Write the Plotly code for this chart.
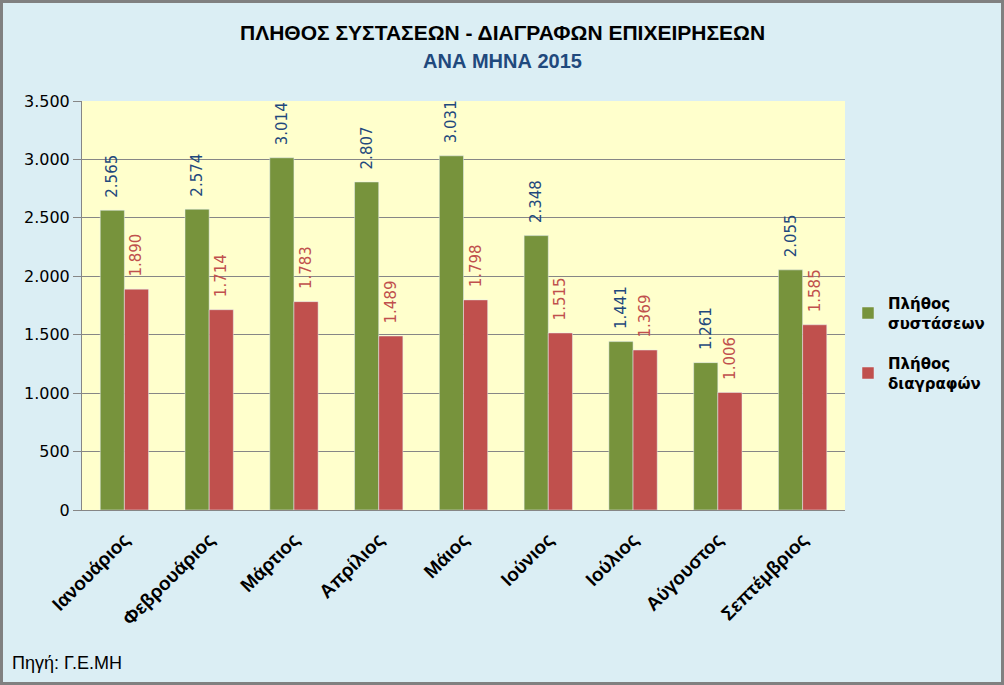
import plotly.graph_objects as go

months = ["Ιανουάριος", "Φεβρουάριος", "Μάρτιος", "Απρίλιος", "Μάιος",
          "Ιούνιος", "Ιούλιος", "Αύγουστος", "Σεπτέμβριος"]
systaseis = [2565, 2574, 3014, 2807, 3031, 2348, 1441, 1261, 2055]
diagrafes = [1890, 1714, 1783, 1489, 1798, 1515, 1369, 1006, 1585]
y_ticks = [0, 500, 1000, 1500, 2000, 2500, 3000, 3500]

W, H = 1004, 685
ml, mr, mt, mb = 82, 159, 101, 175
pw, ph = W - ml - mr, H - mt - mb

fig = go.Figure()
fig.add_trace(go.Bar(
    x=months, y=systaseis, name="<b>Πλήθος<br>συστάσεων</b>",
    legendgroup="a",
    marker_color="#77933C",
    texttemplate="\u00a0\u00a0%{y:,d}", textposition="outside", textangle=-90,
    constraintext="none",
    textfont=dict(family="DejaVu Sans", size=15, color="#1F497D"),
    cliponaxis=False,
))
fig.add_trace(go.Bar(
    x=months, y=diagrafes, name="<b>Πλήθος<br>διαγραφών</b>",
    legendgroup="b",
    marker_color="#C0504D",
    texttemplate="\u00a0\u00a0%{y:,d}", textposition="outside", textangle=-90,
    constraintext="none",
    textfont=dict(family="DejaVu Sans", size=15, color="#C0504D"),
    cliponaxis=False,
))

fig.update_layout(
    width=W, height=H,
    margin=dict(l=ml, r=mr, t=mt, b=mb, autoexpand=False),
    paper_bgcolor="#DBEEF4",
    plot_bgcolor="#FFFFCC",
    separators=",.",
    barmode="group",
    bargap=0.43,
    bargroupgap=0,
    showlegend=True,
    legend=dict(x=(848 - ml) / pw, y=(510 - 343) / ph, xanchor="left", yanchor="middle",
                font=dict(family="DejaVu Sans", size=15, color="#000000"),
                tracegroupgap=18, bgcolor="rgba(0,0,0,0)", itemwidth=30),
    font=dict(family="DejaVu Sans", color="#000000"),
)
fig.update_yaxes(
    range=[0, 3500], tickvals=y_ticks, tickformat=",d",
    showgrid=True, gridcolor="#868686", gridwidth=1,
    showline=True, linecolor="#868686", linewidth=1,
    ticks="outside", ticklen=8, tickcolor="#868686",
    tickfont=dict(family="DejaVu Sans", size=16, color="#000000"),
    zeroline=False,
)
fig.update_xaxes(
    showline=True, linecolor="#868686", linewidth=1,
    tickangle=-45, ticklabelstandoff=10,
    tickfont=dict(family="Liberation Sans", size=19, color="#000000"),
    ticks="",
)
fig.update_xaxes(ticktext=[f"<b>{m}</b>" for m in months], tickvals=months)

fig.add_annotation(text="<b>ΠΛΗΘΟΣ ΣΥΣΤΑΣΕΩΝ - ΔΙΑΓΡΑΦΩΝ ΕΠΙΧΕΙΡΗΣΕΩΝ</b>",
                   xref="paper", yref="paper",
                   x=(502 - ml) / pw, y=1 + (mt - 32) / ph,
                   xanchor="center", yanchor="middle", showarrow=False,
                   font=dict(family="Liberation Sans", size=21, color="#000000"))
fig.add_annotation(text="<b>ΑΝΑ ΜΗΝΑ 2015</b>",
                   xref="paper", yref="paper",
                   x=(502 - ml) / pw, y=1 + (mt - 61) / ph,
                   xanchor="center", yanchor="middle", showarrow=False,
                   font=dict(family="Liberation Sans", size=20, color="#1F497D"))
fig.add_annotation(text="Πηγή: Γ.Ε.ΜΗ",
                   xref="paper", yref="paper",
                   x=(10 - ml) / pw, y=-(663 - mt - ph) / ph,
                   xanchor="left", yanchor="middle", showarrow=False,
                   font=dict(family="Liberation Sans", size=18, color="#000000"))
fig.add_shape(type="rect", xref="paper", yref="paper",
              x0=(1.5 - ml) / pw, x1=(W - 1.5 - ml) / pw,
              y0=-(H - 1.5 - mt - ph) / ph, y1=1 + (mt - 1.5) / ph,
              line=dict(color="#808080", width=3), fillcolor="rgba(0,0,0,0)")

fig.write_html("out.html", config={"displayModeBar": False},
               post_script="document.body.style.margin='0px';document.body.style.overflow='hidden';")
